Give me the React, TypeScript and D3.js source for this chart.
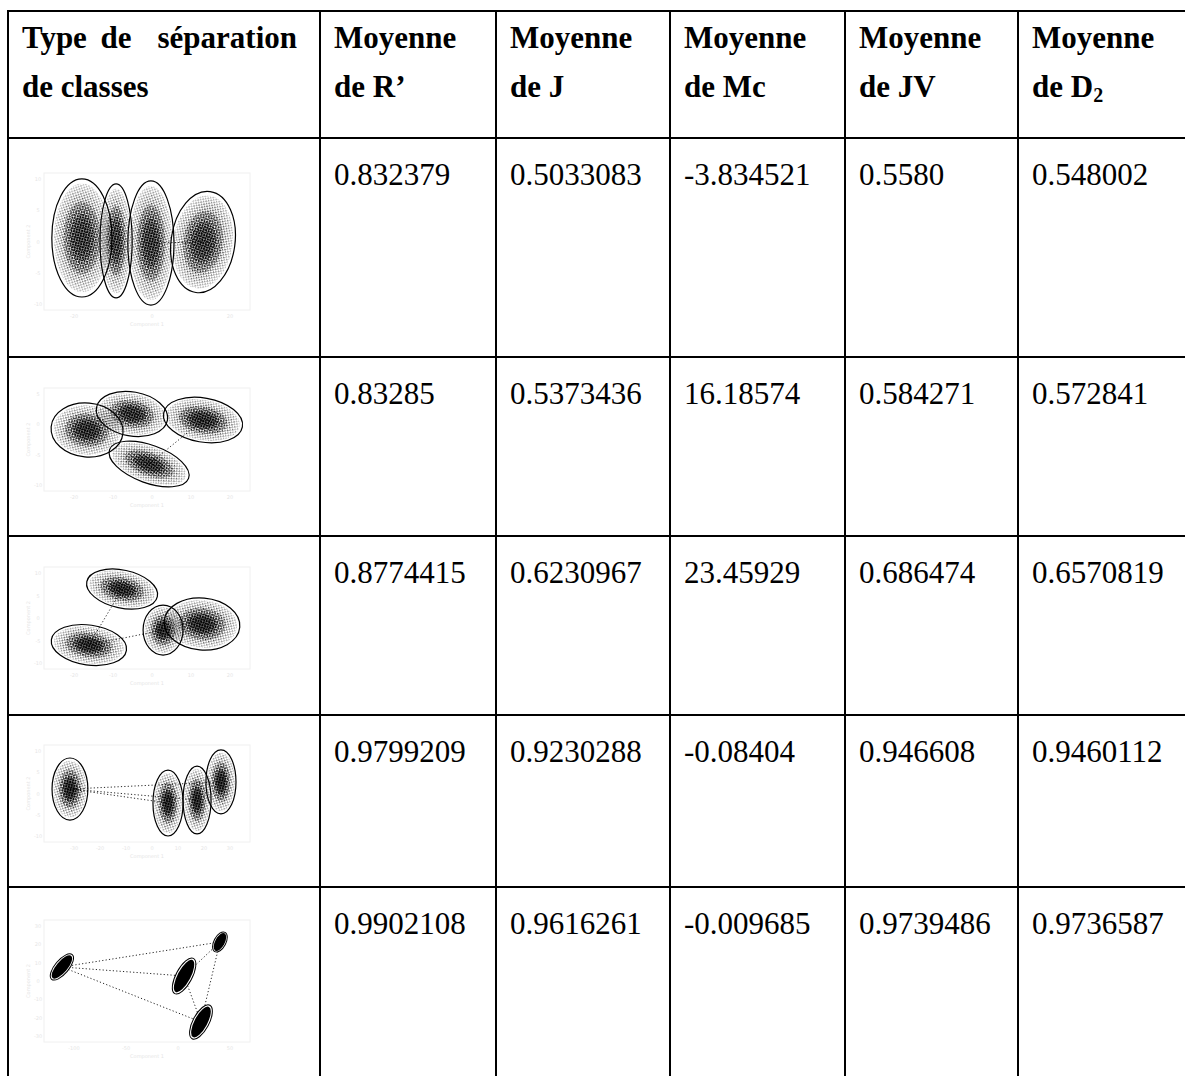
import React from "react";
import * as d3 from "d3";

// ---------- table data ----------
const headerFirst = ["Moyenne", "Moyenne", "Moyenne", "Moyenne", "Moyenne"];
const headerSecond = ["de R’", "de J", "de Mc", "de JV", "de D_2"];
const meanR = ["0.832379", "0.83285", "0.8774415", "0.9799209", "0.9902108"];
const meanJ = ["0.5033083", "0.5373436", "0.6230967", "0.9230288", "0.9616261"];
const meanMc = ["-3.834521", "16.18574", "23.45929", "-0.08404", "-0.009685"];
const meanJV = ["0.5580", "0.584271", "0.686474", "0.946608", "0.9739486"];
const meanD2 = ["0.548002", "0.572841", "0.6570819", "0.9460112", "0.9736587"];

// ---------- thumbnail data: clusters [cx, cy, rx, ry, angle] in % of plot frame ----------
const sep1Clusters = [
  [18.4, 47.4, 14.6, 43.1, 0],
  [35.0, 49.6, 7.8, 41.6, 0],
  [51.9, 51.1, 11.2, 45.3, 0],
  [77.2, 50.4, 15.5, 37.2, 8],
];
const sep1Links = [[2, 3]];
const sep2Clusters = [
  [20.9, 40.8, 17.5, 26.2, 5],
  [42.7, 25.2, 17.5, 21.4, 10],
  [77.2, 31.1, 19.4, 21.4, 10],
  [51.0, 73.8, 20.4, 18.4, 20],
];
const sep2Links = [[3, 2]];
const sep3Clusters = [
  [37.9, 21.6, 17.5, 18.6, 12],
  [21.8, 76.5, 18.4, 19.6, 8],
  [57.8, 61.8, 9.7, 24.5, 0],
  [76.7, 55.9, 18.4, 25.5, 5],
];
const sep3Links = [[1, 2], [0, 1]];
const sep4Clusters = [
  [12.6, 45.4, 8.7, 32, 0],
  [60.2, 59.8, 7.3, 34, 0],
  [74.3, 56.7, 6.8, 35, 0],
  [85.9, 38.1, 7.3, 33, 0],
];
const sep4Links = [[0, 1], [0, 2], [0, 3]];
const sep5Clusters = [
  [8.7, 38.5, 7.8, 5.7, -50],
  [68.0, 45.9, 9.7, 6.6, -62],
  [76.2, 83.6, 9.2, 6.6, -62],
  [85.4, 18.0, 5.3, 4.9, -62],
];
const sep5Links = [[0, 3], [0, 1], [0, 2], [1, 2], [2, 3], [1, 3]];

// faint axis tick labels of the thumbnails
const sep1XTicks = ["-20", "0", "20"];
const sep1YTicks = ["10", "5", "0", "-5", "-10"];
const sep2XTicks = ["-20", "-10", "0", "10", "20"];
const sep2YTicks = ["5", "0", "-5", "-10"];
const sep3XTicks = ["-20", "-10", "0", "10", "20"];
const sep3YTicks = ["10", "5", "0", "-5", "-10"];
const sep4XTicks = ["-30", "-20", "-10", "0", "10", "20", "30"];
const sep4YTicks = ["10", "5", "0", "-5", "-10"];
const sep5XTicks = ["-100", "-50", "0", "50"];
const sep5YTicks = ["30", "20", "10", "0", "-10", "-20", "-30"];

const thumbs = [
  { clusters: sep1Clusters, links: sep1Links, xt: sep1XTicks, yt: sep1YTicks, solid: false, core: 0.55 },
  { clusters: sep2Clusters, links: sep2Links, xt: sep2XTicks, yt: sep2YTicks, solid: false, core: 0.75 },
  { clusters: sep3Clusters, links: sep3Links, xt: sep3XTicks, yt: sep3YTicks, solid: false, core: 0.85 },
  { clusters: sep4Clusters, links: sep4Links, xt: sep4XTicks, yt: sep4YTicks, solid: false, core: 0.9 },
  { clusters: sep5Clusters, links: sep5Links, xt: sep5XTicks, yt: sep5YTicks, solid: true, core: 1 },
];

// ---------- layout ----------
const WIDTH = 1185;
const HEIGHT = 1076;
const colLines = [8, 320, 496, 670, 845, 1018, 1192];
const rowLines = [11, 138, 357, 536, 715, 887];
const thumbFrames = [
  [44, 250, 173, 310],
  [44, 250, 388, 491],
  [44, 250, 567, 669],
  [44, 250, 745, 842],
  [44, 250, 920, 1042],
];

const FONT = "'Liberation Serif', 'Times New Roman', serif";
const FS = 31;

function Thumb({ idx }: { idx: number }) {
  const t = thumbs[idx];
  const [x0, x1, y0, y1] = thumbFrames[idx];
  const x = d3.scaleLinear().domain([0, 100]).range([x0, x1]);
  const y = d3.scaleLinear().domain([0, 100]).range([y0, y1]);
  const xt = d3.scalePoint().domain(t.xt).range([x0 + 30, x1 - 20]);
  const yt = d3.scalePoint().domain(t.yt).range([y0 + 6, y1 - 6]);
  const kx = (x1 - x0) / 100;
  const ky = (y1 - y0) / 100;
  return (
    <g>
      <rect x={x0} y={y0} width={x1 - x0} height={y1 - y0} fill="none" stroke="#f0f0f0" strokeWidth={1} />
      <g fill="#e6e6e6" fontFamily="'DejaVu Sans', sans-serif" fontSize={5}>
        {t.xt.map((v) => (
          <text key={"x" + v} x={xt(v)} y={y1 + 8} textAnchor="middle">{v}</text>
        ))}
        {t.yt.map((v) => (
          <text key={"y" + v} x={x0 - 6} y={(yt(v) as number) + 2} textAnchor="middle">{v}</text>
        ))}
        <text x={(x0 + x1) / 2} y={y1 + 16} textAnchor="middle">Component 1</text>
        <text transform={`translate(${x0 - 14},${(y0 + y1) / 2}) rotate(-90)`} textAnchor="middle">Component 2</text>
      </g>
      {t.links.map(([a, b], i) => (
        <line
          key={"l" + i}
          x1={x(t.clusters[a][0])}
          y1={y(t.clusters[a][1])}
          x2={x(t.clusters[b][0])}
          y2={y(t.clusters[b][1])}
          stroke="#000"
          strokeWidth={1}
          strokeDasharray="1.2 2.2"
          opacity={0.85}
        />
      ))}
      {t.clusters.map((c, i) => {
        const [cx, cy, rx, ry, ang] = c;
        const rxp = rx * kx;
        const ryp = ry * ky;
        return (
          <g key={"c" + i} transform={`translate(${x(cx)},${y(cy)}) rotate(${ang})`}>
            {t.solid ? (
              <>
                <ellipse rx={rxp} ry={ryp} fill="#fff" stroke="#000" strokeWidth={1} />
                <ellipse rx={rxp * 0.9} ry={ryp * 0.8} fill="#000" />
              </>
            ) : (
              <>
                <ellipse rx={rxp * 0.93} ry={ryp * 0.92} fill="url(#stip)" mask="url(#fade)" />
                <ellipse rx={rxp * 0.62} ry={ryp * 0.62} fill="url(#stip2)" mask="url(#fade)" />
                <ellipse rx={rxp * 0.4} ry={ryp * 0.4} fill="#000" opacity={t.core * 0.7} mask="url(#fade)" />
                <ellipse rx={rxp} ry={ryp} fill="none" stroke="#000" strokeWidth={1.2} />
              </>
            )}
          </g>
        );
      })}
    </g>
  );
}

function HeaderCell({ i }: { i: number }) {
  const tx = colLines[i + 1] + 14;
  const parts = headerSecond[i].split("_");
  return (
    <g fontWeight="bold">
      <text x={tx} y={48}>{headerFirst[i]}</text>
      <text x={tx} y={97}>
        {parts[0]}
        {parts[1] && (
          <tspan fontSize={20} dy={5}>{parts[1]}</tspan>
        )}
      </text>
    </g>
  );
}

export default function App() {
  const columns = [meanR, meanJ, meanMc, meanJV, meanD2];
  return (
    <svg
      width={WIDTH}
      height={HEIGHT}
      style={{ position: "absolute", left: 0, top: 0, background: "#fff" }}
      fontFamily={FONT}
      fontSize={FS}
    >
      <defs>
        <pattern id="stip" width="3.6" height="3.6" patternUnits="userSpaceOnUse" patternTransform="rotate(27)">
          <rect x="0" y="0" width="1.5" height="1.5" fill="#000" />
          <circle cx="2.5" cy="2.6" r="0.75" fill="#000" />
        </pattern>
        <pattern id="stip2" width="2.6" height="2.6" patternUnits="userSpaceOnUse" patternTransform="rotate(15)">
          <rect x="0" y="0" width="1.8" height="1.8" fill="#000" />
        </pattern>
        <radialGradient id="rg">
          <stop offset="0" stopColor="#fff" stopOpacity={1} />
          <stop offset="0.6" stopColor="#fff" stopOpacity={0.9} />
          <stop offset="1" stopColor="#fff" stopOpacity={0.3} />
        </radialGradient>
        <mask id="fade" maskContentUnits="objectBoundingBox">
          <rect x="0" y="0" width="1" height="1" fill="url(#rg)" />
        </mask>
      </defs>
      <rect x={0} y={0} width={WIDTH} height={HEIGHT} fill="#fff" />

      {/* header */}
      <g fontWeight="bold">
        <text x={22} y={48}>Type</text>
        <text x={116} y={48} textAnchor="middle">de</text>
        <text x={297} y={48} textAnchor="end">séparation</text>
        <text x={22} y={97}>de classes</text>
      </g>
      {headerFirst.map((_, i) => (
        <HeaderCell key={i} i={i} />
      ))}

      {/* body values */}
      {columns.map((col, ci) =>
        col.map((v, ri) => (
          <text key={ci + "-" + ri} x={colLines[ci + 1] + 14} y={rowLines[ri + 1] + 47}>
            {v}
          </text>
        ))
      )}

      {/* thumbnails */}
      {thumbs.map((_, i) => (
        <Thumb key={i} idx={i} />
      ))}

      {/* grid lines */}
      {rowLines.map((yy, i) => (
        <line key={"h" + i} x1={colLines[0] - 1} x2={WIDTH} y1={yy} y2={yy} stroke="#000" strokeWidth={2} />
      ))}
      {colLines.map((xx, i) => (
        <line key={"v" + i} x1={xx} x2={xx} y1={rowLines[0] - 1} y2={HEIGHT} stroke="#000" strokeWidth={2} />
      ))}
    </svg>
  );
}
